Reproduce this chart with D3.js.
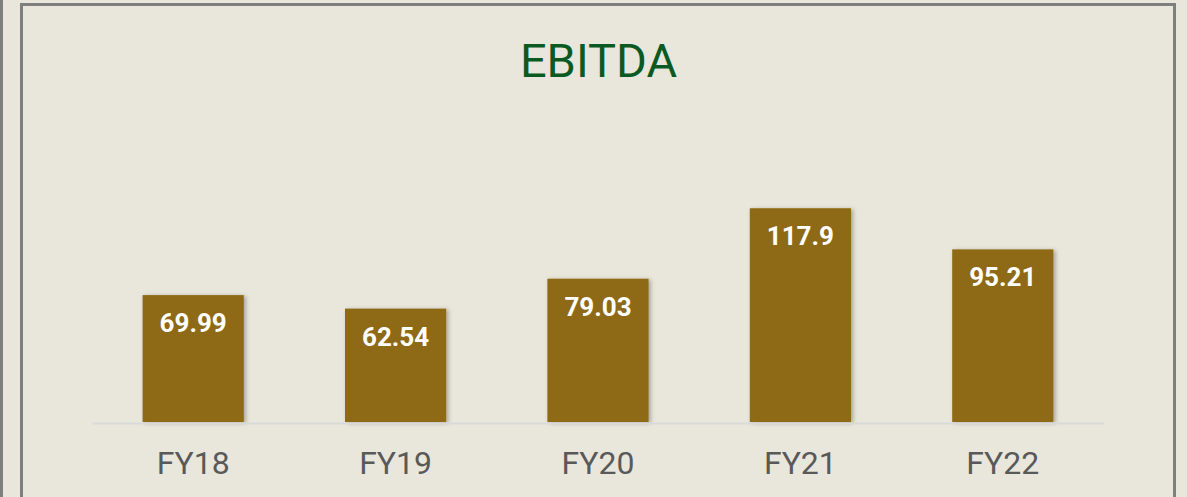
<!DOCTYPE html>
<html><head><meta charset="utf-8">
<script src="https://cdn.jsdelivr.net/npm/d3@7"></script>
<style>html,body{margin:0;padding:0;background:#e9e7db;overflow:hidden}</style>
</head><body>
<script>
const categories = ["FY18","FY19","FY20","FY21","FY22"];
const values = [69.99, 62.54, 79.03, 117.9, 95.21];
const labels = ["69.99","62.54","79.03","117.9","95.21"];
const title = "EBITDA";

const W = 1187, H = 497;
const svg = d3.select("body").append("svg").attr("width", W).attr("height", H);
svg.append("rect").attr("width", W).attr("height", H).attr("fill", "#e9e7db");

const defs = svg.append("defs");
const f = defs.append("filter").attr("id","sh").attr("x","-10%").attr("y","-10%").attr("width","130%").attr("height","130%");
f.append("feDropShadow").attr("dx",2).attr("dy",1).attr("stdDeviation",2).attr("flood-color","#000").attr("flood-opacity",0.3);

// left panel edge and frame
svg.append("rect").attr("x",-10).attr("y",-10).attr("width",11.5).attr("height",H+20).attr("fill","none").attr("stroke","#7f7f7f").attr("stroke-width",3);
svg.append("rect").attr("x",21.5).attr("y",4.5).attr("width",1153).attr("height",H+20).attr("fill","none").attr("stroke","#7f7f7f").attr("stroke-width",3);

const x = d3.scaleBand().domain(categories).range([92,1104]).paddingInner(0.5).paddingOuter(0.25);
const baseY = 422;
const y = d3.scaleLinear().domain([0,130]).range([baseY, baseY - 130*1.813]);

svg.append("text").attr("x",598.5).attr("y",77).attr("text-anchor","middle")
  .attr("font-family","Roboto").attr("font-size",47).attr("fill","#0b5a24").text(title);

svg.append("g").selectAll("rect").data(values).join("rect")
  .attr("x",(d,i)=>x(categories[i])).attr("y",d=>y(d))
  .attr("width",x.bandwidth()).attr("height",d=>baseY-y(d))
  .attr("fill","#8e6914").attr("filter","url(#sh)");

// baseline axis
const ax = svg.append("g").attr("transform",`translate(0,${baseY+1})`)
  .call(d3.axisBottom(x).tickSize(0).tickPadding(0));
ax.select(".domain").attr("stroke","#d9d9d9").attr("stroke-width",2);
ax.selectAll("text").attr("font-family","Roboto").attr("font-size",32).attr("fill","#595959")
  .attr("dy",0).attr("y",51);

svg.append("g").selectAll("text").data(values).join("text")
  .attr("x",(d,i)=>x(categories[i])+x.bandwidth()/2).attr("y",d=>y(d)+37)
  .attr("text-anchor","middle").attr("font-family","Roboto").attr("font-weight","bold")
  .attr("font-size",26).attr("fill","#ffffff").text((d,i)=>labels[i]);
</script>
</body></html>
